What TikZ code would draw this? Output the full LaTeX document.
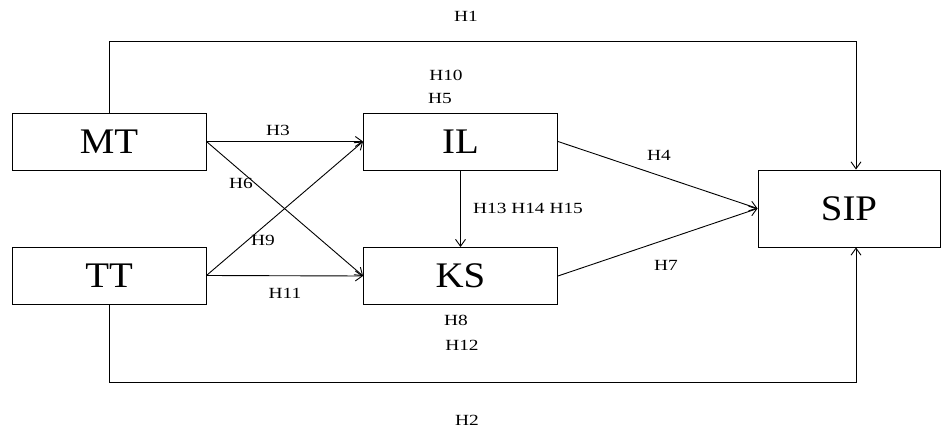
\documentclass[tikz,border=0pt]{standalone}
\usepackage{fontspec}
\setmainfont{Liberation Serif}
\newfontfamily\lblfont[FakeStretch=1.25]{Liberation Serif}
\newfontfamily\varfont[FakeStretch=1.08]{Liberation Serif}
\usetikzlibrary{arrows.meta}
\begin{document}
\begin{tikzpicture}[x=1pt,y=-1pt,
  var/.style={draw,line width=0.9pt,minimum width=194pt,minimum height=57pt,inner sep=0pt,font=\varfont\fontsize{36}{36}\selectfont},
  lbl/.style={font=\lblfont\fontsize{15.5}{15.5}\selectfont,inner sep=0pt},
  link/.style={line width=0.9pt,-{Straight Barb[length=7pt,width=10pt,line width=0.9pt]}}]
\useasboundingbox (0,0) rectangle (942,430);
% constructs
\node[var] (MT) at (109,141.5) {MT};
\node[var] (TT) at (109,275.5) {TT};
\node[var] (IL) at (460.5,141.5) {IL};
\node[var] (KS) at (460.5,276) {KS};
\node[var,minimum width=182pt,minimum height=77pt] (SIP) at (849,208.5) {SIP};
% routing corners of the outer paths
\coordinate (c1) at (109,41);
\coordinate (c2) at (856,41);
\coordinate (c3) at (109,382);
\coordinate (c4) at (856,382);
% paths
\draw[link] (MT.north) -- (c1) -- (c2) -- (SIP.north -| c2);
\draw[link] (TT.south) -- (c3) -- (c4) -- (SIP.south -| c4);
\draw[link] (MT.east) -- (IL.west);
\draw[link] (MT.east) -- (KS.west);
\draw[link] (TT.east) -- (IL.west);
\draw[link] (TT.east) -- (KS.west);
\draw[link] (IL.south) -- (KS.north);
\draw[link] (IL.east) -- (SIP.west);
\draw[link] (KS.east) -- (SIP.west);
% hypothesis labels
\node[lbl] (h1) at (466,16) {H1};
\node[lbl] (h2) at (467,420) {H2};
\node[lbl] (h3) at (278,130) {H3};
\node[lbl] (h4) at (659,155) {H4};
\node[lbl] (h5) at (440,99) {H5};
\node[lbl] (h10) at (446,75) {H10};
\node[lbl] (h6) at (241,183) {H6};
\node[lbl] (h7) at (666,265) {H7};
\node[lbl] (h8) at (456,320) {H8};
\node[lbl] (h12) at (462,345) {H12};
\node[lbl] (h9) at (263,240) {H9};
\node[lbl] (h11) at (285,293) {H11};
\node[lbl] (h13) at (528,208) {H13 H14 H15};
\end{tikzpicture}
\end{document}
